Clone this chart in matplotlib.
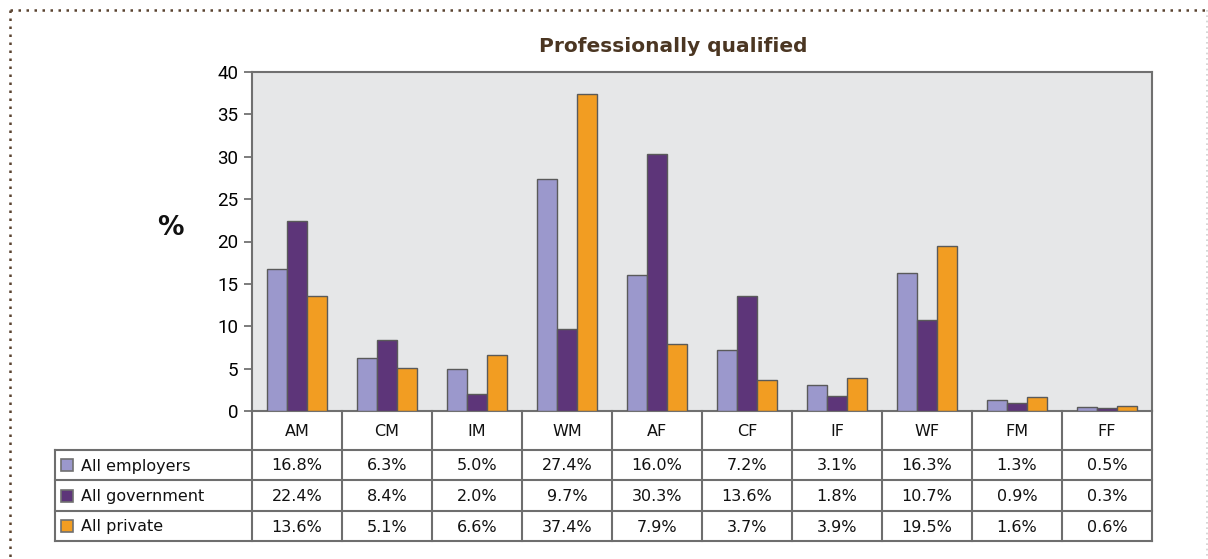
import matplotlib
matplotlib.use("Agg")
import matplotlib.pyplot as plt
from matplotlib.patches import Rectangle
import numpy as np

categories = ["AM", "CM", "IM", "WM", "AF", "CF", "IF", "WF", "FM", "FF"]
series_names = ["All employers", "All government", "All private"]
employers = [16.8, 6.3, 5.0, 27.4, 16.0, 7.2, 3.1, 16.3, 1.3, 0.5]
government = [22.4, 8.4, 2.0, 9.7, 30.3, 13.6, 1.8, 10.7, 0.9, 0.3]
private = [13.6, 5.1, 6.6, 37.4, 7.9, 3.7, 3.9, 19.5, 1.6, 0.6]
yticks = [0, 5, 10, 15, 20, 25, 30, 35, 40]
title = "Professionally qualified"

colors = ["#9b98cc", "#5d3579", "#f29d22"]
series = [employers, government, private]

W, H = 1208, 559
fig = plt.figure(figsize=(W / 100, H / 100), dpi=100)
fig.patch.set_facecolor("white")

# main axes (pixel layout)
L, R, T, B = 252, 1152, 72, 411
ax = fig.add_axes([L / W, 1 - B / H, (R - L) / W, (B - T) / H])
ax.set_facecolor("#e6e7e8")
x = np.arange(len(categories))
bw = 0.222
for i, (vals, c) in enumerate(zip(series, colors)):
    ax.bar(x + (i - 1) * bw, vals, width=bw, color=c, edgecolor="#5a5a5a",
           linewidth=1.0, zorder=3)
ax.set_xlim(-0.5, len(categories) - 0.5)
ax.set_ylim(0, 40)
ax.set_yticks(yticks)
ax.set_yticklabels([str(t) for t in yticks], fontsize=13.5, family="Roboto")
ax.set_xticks([])
ax.tick_params(axis="y", length=6, width=1.2, color="#666666", pad=4)
for s in ax.spines.values():
    s.set_color("#707070")
    s.set_linewidth(1.5)

# overlay axes in pixel coordinates
ov = fig.add_axes([0, 0, 1, 1], facecolor="none")
ov.set_xlim(0, W)
ov.set_ylim(H, 0)
ov.axis("off")

# dotted frame
ov.plot([10, W], [10, 10], ls=(0, (1, 2.2)), color="#5a4330", lw=1.8)
ov.plot([10, 10], [10, H], ls=(0, (1, 2.2)), color="#5a4330", lw=1.8)
ov.plot([W - 1.5, W - 1.5], [10, H], ls=(0, (1, 2.2)), color="#cfcfcf", lw=1.2)

# title and y label
ov.text(673, 47, title, ha="center", va="center", fontsize=14.5,
        fontweight="bold", color="#4b3622", family="DejaVu Sans")
ov.text(170, 228, "%", ha="center", va="center", fontsize=19,
        fontweight="bold", color="#111111")

# table
cw = (R - L) / len(categories)
row_y = [411, 450, 480, 511, 541]
lc = "#6e6e6e"
lw = 1.5
tl = 55
for k in range(len(categories) + 1):
    xx = L + k * cw
    ov.plot([xx, xx], [row_y[0], row_y[-1]], color=lc, lw=lw, solid_capstyle="projecting")
ov.plot([tl, tl], [row_y[1], row_y[-1]], color=lc, lw=lw)
for yy in row_y[1:]:
    ov.plot([tl, R], [yy, yy], color=lc, lw=lw)

for k, cat in enumerate(categories):
    ov.text(L + (k + 0.5) * cw, (row_y[0] + row_y[1]) / 2 + 1, cat,
            ha="center", va="center", fontsize=11.5, color="#111111")

for r, (name, vals, c) in enumerate(zip(series_names, series, colors)):
    yc = (row_y[r + 1] + row_y[r + 2]) / 2
    ov.add_patch(Rectangle((61, yc - 6), 12, 12, facecolor=c,
                           edgecolor="#707070", lw=1.2))
    ov.text(81, yc + 1, name, ha="left", va="center", fontsize=11.5,
            color="#111111", family="DejaVu Sans Condensed" if False else "DejaVu Sans")
    for k, v in enumerate(vals):
        ov.text(L + (k + 0.5) * cw, yc + 1, f"{v:.1f}%", ha="center",
                va="center", fontsize=11.5, color="#111111")

fig.savefig("out.png", dpi=100)
